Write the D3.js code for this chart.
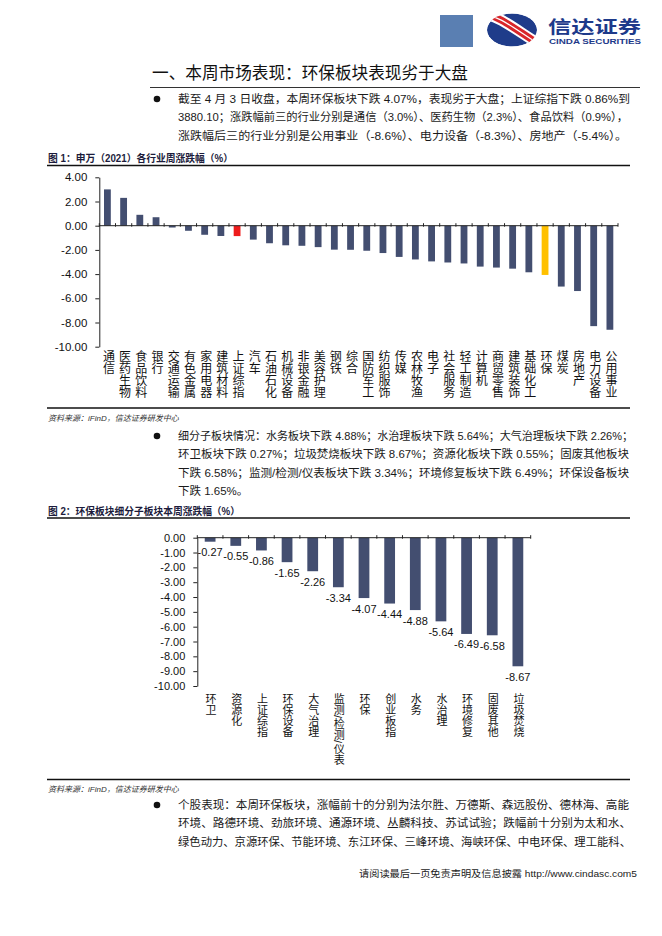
<!DOCTYPE html>
<html><head><meta charset="utf-8">
<script src="https://cdn.jsdelivr.net/npm/d3@7"></script>
<style>
body{margin:0;background:#fff}
svg{display:block}
text{font-family:"Liberation Sans","Noto Sans CJK SC",sans-serif}
</style>
</head><body>
<svg id="page" width="662" height="936"></svg>
<script>
// ---------- data ----------
const industries = ["通信","医药生物","食品饮料","银行","交通运输","有色金属","家用电器","建筑材料","上证综指","汽车","石油石化","机械设备","非银金融","美容护理","钢铁","综合","国防军工","纺织服饰","传媒","农林牧渔","电子","社会服务","轻工制造","计算机","商贸零售","建筑装饰","基础化工","环保","煤炭","房地产","电力设备","公用事业"];
const industryChange = [3.0,2.3,0.9,0.7,-0.15,-0.42,-0.75,-0.85,-0.86,-1.15,-1.45,-1.62,-1.66,-1.77,-1.98,-1.99,-2.07,-2.26,-2.58,-2.79,-2.95,-3.04,-3.12,-3.38,-3.46,-3.55,-3.85,-4.07,-5.03,-5.4,-8.3,-8.6];
const highlightIndex = "上证综指";
const highlightSector = "环保";
const yTicks1 = [4,2,0,-2,-4,-6,-8,-10];

const subSectors = ["环卫","资源化","上证综指","环保设备","大气治理","监测/检测/仪表","环保","创业板指","水务","水治理","环境修复","固废其他","垃圾焚烧"];
const subChange = [-0.27,-0.55,-0.86,-1.65,-2.26,-3.34,-4.07,-4.44,-4.88,-5.64,-6.49,-6.58,-8.67];
const yTicks2 = [0,-1,-2,-3,-4,-5,-6,-7,-8,-9,-10];

const titleText = "一、本周市场表现：环保板块表现劣于大盘";
const para1 = [
  "截至 4 月 3 日收盘，本周环保板块下跌 4.07%，表现劣于大盘；上证综指下跌 0.86%到",
  "3880.10；涨跌幅前三的行业分别是通信（3.0%）、医药生物（2.3%）、食品饮料（0.9%），",
  "涨跌幅后三的行业分别是公用事业（-8.6%）、电力设备（-8.3%）、房地产（-5.4%）。"
];
const para2 = [
  "细分子板块情况：水务板块下跌 4.88%；水治理板块下跌 5.64%；大气治理板块下跌 2.26%；",
  "环卫板块下跌 0.27%；垃圾焚烧板块下跌 8.67%；资源化板块下跌 0.55%；固废其他板块",
  "下跌 6.58%；监测/检测/仪表板块下跌 3.34%；环境修复板块下跌 6.49%；环保设备板块",
  "下跌 1.65%。"
];
const para3 = [
  "个股表现：本周环保板块，涨幅前十的分别为法尔胜、万德斯、森远股份、德林海、高能",
  "环境、路德环境、劲旅环境、通源环境、丛麟科技、苏试试验；跌幅前十分别为太和水、",
  "绿色动力、京源环保、节能环境、东江环保、三峰环境、海峡环保、中电环保、理工能科、"
];
const caption1 = "图 1：申万（2021）各行业周涨跌幅（%）";
const caption2 = "图 2：环保板块细分子板块本周涨跌幅（%）";
const sourceText = "资料来源：iFinD，信达证券研发中心";
const footerText = "请阅读最后一页免责声明及信息披露 http://www.cindasc.com5";

// ---------- styles ----------
const BAR = "#434e70", RED = "#ee1c1c", YELLOW = "#ffc000", TXT = "#1a1a1a";
const svg = d3.select("#page");
const fmt = v => v.toFixed(2);

// ---------- header ----------
svg.append("rect").attr("x",440).attr("y",15).attr("width",33).attr("height",32).attr("fill","#5a7fb2");
const defs = svg.append("defs");
defs.append("clipPath").attr("id","logoClip").append("ellipse")
  .attr("cx",512).attr("cy",30).attr("rx",25).attr("ry",16.5);
const logo = svg.append("g").attr("clip-path","url(#logoClip)");
logo.append("ellipse").attr("cx",512).attr("cy",30).attr("rx",25).attr("ry",16.5).attr("fill","#1f3c8a");
logo.append("path").attr("d","M484,14 C500,16 516,30 542,46").attr("stroke","#fff").attr("stroke-width",11).attr("fill","none");
logo.append("path").attr("d","M484,14 C500,16 516,30 542,46").attr("stroke","#d9262a").attr("stroke-width",7).attr("fill","none");
logo.append("path").attr("d","M484,14 C500,16 516,30 542,46").attr("stroke","#fff").attr("stroke-width",1.2).attr("fill","none");
svg.append("text").attr("x",548).attr("y",33).attr("font-size",17.5).attr("font-weight","bold")
  .attr("fill","#1d3a8a").attr("textLength",93).attr("lengthAdjust","spacingAndGlyphs").text("信达证券");
svg.append("text").attr("x",549).attr("y",44).attr("font-size",7.4).attr("font-weight","bold")
  .attr("fill","#1d3a8a").attr("textLength",92).attr("lengthAdjust","spacingAndGlyphs").text("CINDA SECURITIES");

// ---------- title ----------
svg.append("text").attr("x",152).attr("y",79).attr("font-size",17).attr("fill","#111")
  .attr("textLength",316).attr("lengthAdjust","spacingAndGlyphs").text(titleText);
svg.append("line").attr("x1",150).attr("x2",640).attr("y1",87.5).attr("y2",87.5).attr("stroke","#333").attr("stroke-width",1);

// ---------- paragraphs ----------
function paragraph(lines, y0, lengths){
  svg.append("circle").attr("cx",157).attr("cy",y0-4).attr("r",3.3).attr("fill","#111");
  lines.forEach((s,i)=>{
    const t = svg.append("text").attr("x",178).attr("y",y0+i*18.3).attr("font-size",11.5).attr("fill",TXT).text(s);
    if(lengths[i]) t.attr("textLength",lengths[i]).attr("lengthAdjust","spacingAndGlyphs");
  });
}
paragraph(para1, 103, [452,450,449]);
paragraph(para2, 440, [455,451,451,0]);
paragraph(para3, 809, [451,453,453]);

// ---------- captions, rules, sources ----------
function caption(txt, y, len){
  const t = svg.append("text").attr("x",48).attr("y",y).attr("font-size",10).attr("font-weight","bold").attr("fill","#1c1c3c").text(txt);
  if(len) t.attr("textLength",len).attr("lengthAdjust","spacingAndGlyphs");
}
function rule(y){ svg.append("line").attr("x1",47).attr("x2",630).attr("y1",y).attr("y2",y).attr("stroke","#111").attr("stroke-width",1.5); }
function source(y){ svg.append("text").attr("x",48).attr("y",y).attr("font-size",8).attr("font-style","italic").attr("fill","#333").text(sourceText); }
caption(caption1,161.5,185); rule(165.5); rule(408); source(421);
caption(caption2,514.5,192); rule(518); rule(779.5); source(792);

svg.append("text").attr("x",637).attr("y",877).attr("text-anchor","end").attr("font-size",9.5).attr("fill","#222")
  .attr("textLength",278).attr("lengthAdjust","spacingAndGlyphs").text(footerText);

// ---------- chart 1 ----------
{
  const x = d3.scaleBand().domain(industries).range([99.3,618]).paddingInner(0.58).paddingOuter(0.29);
  const y = d3.scaleLinear().domain([-10,4]).range([346.7,177.3]);
  const g = svg.append("g");
  g.selectAll("rect.bar").data(industries).join("rect").attr("class","bar")
    .attr("x",d=>x(d)).attr("width",x.bandwidth())
    .attr("y",(d,i)=>y(Math.max(0,industryChange[i])))
    .attr("height",(d,i)=>Math.abs(y(industryChange[i])-y(0)))
    .attr("fill",d=> d===highlightIndex?RED:(d===highlightSector?YELLOW:BAR));
  const ya = g.append("g").attr("transform","translate(99.3,0)")
    .call(d3.axisLeft(y).tickValues(yTicks1).tickFormat(fmt).tickSize(4).tickSizeOuter(0));
  ya.select(".domain").attr("stroke","#222");
  ya.selectAll(".tick line").attr("stroke","#222");
  ya.selectAll(".tick text").attr("font-size",11.5).attr("fill","#111").attr("x",-12).attr("font-family",null);
  const step = x.step(), y0 = y(0);
  g.append("line").attr("x1",99.3).attr("x2",618).attr("y1",y0).attr("y2",y0).attr("stroke","#222");
  const bounds = industries.map(d=>x(d)-step*0.29).concat([618]);
  g.selectAll("line.tk").data(bounds).join("line").attr("class","tk")
    .attr("x1",d=>d).attr("x2",d=>d).attr("y1",y0-2.5).attr("y2",y0+1).attr("stroke","#222");
  g.selectAll("text.cat").data(industries).join("text").attr("class","cat")
    .attr("x",d=>x(d)+x.bandwidth()/2).attr("y",350)
    .style("writing-mode","vertical-rl").attr("font-size",12).attr("fill","#111").text(d=>d);
}

// ---------- chart 2 ----------
{
  const x = d3.scaleBand().domain(subSectors).range([197.3,530.7]).paddingInner(0.58).paddingOuter(0.29);
  const y = d3.scaleLinear().domain([-10,0]).range([686,537.7]);
  const g = svg.append("g");
  g.selectAll("rect.bar").data(subSectors).join("rect").attr("class","bar")
    .attr("x",d=>x(d)).attr("width",x.bandwidth())
    .attr("y",y(0)).attr("height",(d,i)=>y(subChange[i])-y(0)).attr("fill",BAR);
  g.selectAll("text.val").data(subSectors).join("text").attr("class","val")
    .attr("x",d=>x(d)+x.bandwidth()/2).attr("y",(d,i)=>y(subChange[i])+14.5)
    .attr("text-anchor","middle").attr("font-size",11).attr("fill","#111").text((d,i)=>subChange[i].toFixed(2));
  const ya = g.append("g").attr("transform","translate(197.3,0)")
    .call(d3.axisLeft(y).tickValues(yTicks2).tickFormat(fmt).tickSize(4).tickSizeOuter(0));
  ya.select(".domain").attr("stroke","#222");
  ya.selectAll(".tick line").attr("stroke","#222");
  ya.selectAll(".tick text").attr("font-size",11).attr("fill","#111").attr("x",-12).attr("font-family",null);
  const step = x.step(), y0 = y(0);
  g.append("line").attr("x1",197.3).attr("x2",530.7).attr("y1",y0).attr("y2",y0).attr("stroke","#222");
  const bounds = subSectors.map(d=>x(d)-step*0.29).concat([530.7]);
  g.selectAll("line.tk").data(bounds).join("line").attr("class","tk")
    .attr("x1",d=>d).attr("x2",d=>d).attr("y1",y0-2.5).attr("y2",y0+1).attr("stroke","#222");
  g.selectAll("text.cat").data(subSectors).join("text").attr("class","cat")
    .attr("x",d=>x(d)+x.bandwidth()/2).attr("y",693)
    .style("writing-mode","vertical-rl").attr("font-size",11).attr("fill","#111").text(d=>d);
}
</script>
</body></html>
